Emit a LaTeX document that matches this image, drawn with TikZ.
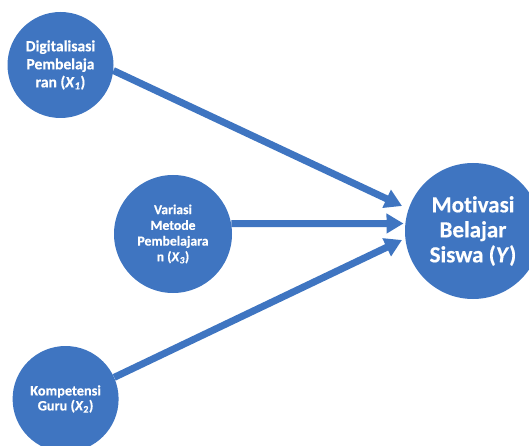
\documentclass[tikz,border=0pt]{standalone}
\usepackage{fontspec}
\setmainfont{Carlito}[BoldFont={Carlito Bold},BoldItalicFont={Carlito Bold Italic},ItalicFont={Carlito Italic},Ligatures={NoCommon},BoldFeatures={FakeBold=0.4},BoldItalicFeatures={FakeBold=0.4}]
\usetikzlibrary{arrows.meta}
\definecolor{cblue}{RGB}{63,117,193}
\tikzset{
  bubble/.style={circle, fill=cblue, text=white, inner sep=0pt, align=center},
  link/.style={draw=cblue, line width=7pt, -{Triangle[length=17pt,width=19pt]}},
}
\newcommand{\subit}[1]{\textsubscript{\itshape #1}}
\begin{document}
\begin{tikzpicture}[x=1pt,y=-1pt]
\useasboundingbox (0,0) rectangle (529,446);
\clip (0,0) rectangle (529,446);
\node[bubble, minimum size=106pt, font=\fontsize{15.6}{18}\selectfont\bfseries] (x1) at (60.5,65) {Digitalisasi\\Pembelaja\\ran (\textit{X}\subit{1})};
\node[bubble, minimum size=118pt, font=\fontsize{13.7}{15.7}\selectfont\bfseries] (x3) at (173,234) {Variasi\\Metode\\Pembelajara\\n (\textit{X}\subit{3})};
\node[bubble, minimum size=106pt, font=\fontsize{14.3}{15}\selectfont\bfseries] (x2) at (65.6,399) {Kompetensi\\Guru (\textit{X}\textsubscript{2})};
\node[bubble, minimum size=136pt, font=\fontsize{23}{25}\selectfont\bfseries] (y) at (473,231) {Motivasi\\Belajar\\Siswa (\textit{Y})};
\coordinate (t1) at (402,206);
\coordinate (t3) at (403.5,223.5);
\coordinate (t2) at (402,240);
\draw[link] (x1.-6) -- (t1);
\draw[link] (x3.10) -- (t3);
\draw[link] (x2.24) -- (t2);
\end{tikzpicture}
\end{document}
